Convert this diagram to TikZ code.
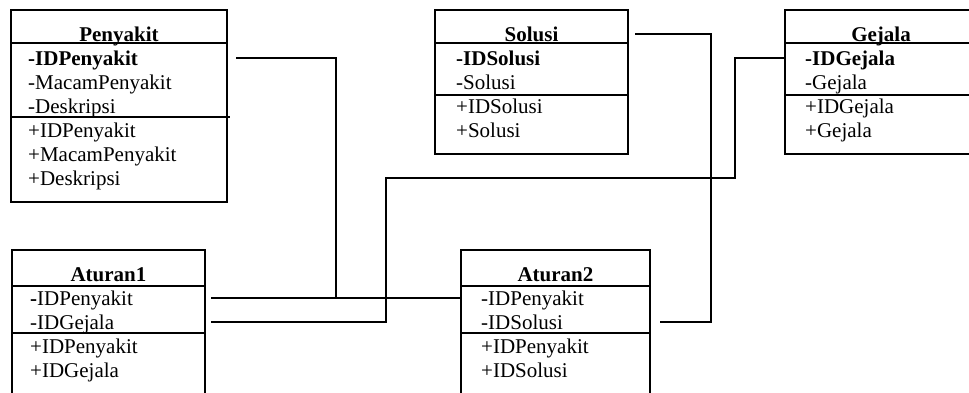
\documentclass[tikz,border=0pt]{standalone}
\usepackage{fontspec}
\setmainfont{Liberation Serif}

\tikzset{
  kelas/.style={draw,line width=1.8pt,outer sep=0pt,inner sep=0pt,anchor=north west},
  garis/.style={line width=1.8pt},
  judul/.style={anchor=base,inner sep=0pt,font=\fontsize{21}{25}\selectfont\bfseries},
  baris/.style={anchor=base west,inner sep=0pt,font=\fontsize{21}{25}\selectfont}
}

\begin{document}
\begin{tikzpicture}[x=1pt,y=-1pt]

\useasboundingbox (0,0) rectangle (969,392);
\clip (0,0) rectangle (969,392);

% kelas
\node[kelas,minimum width=216pt,minimum height=192pt] (penyakit) at (11,10) {};
\node[kelas,minimum width=193pt,minimum height=144pt] (solusi) at (435,10) {};
\node[kelas,minimum width=192pt,minimum height=144pt] (gejala) at (785,10) {};
\node[kelas,minimum width=193pt,minimum height=160pt] (aturan1) at (12,250) {};
\node[kelas,minimum width=189pt,minimum height=160pt] (aturan2) at (461,250) {};

% garis pemisah
\draw[garis] ([yshift=-33pt]penyakit.north west) -- ([yshift=-33pt]penyakit.north east);
\draw[garis] ([yshift=-107pt]penyakit.north west) -- ([yshift=-107pt,xshift=3pt]penyakit.north east);
\foreach \k in {solusi,gejala} {
  \draw[garis] ([yshift=-33pt]\k.north west) -- ([yshift=-33pt]\k.north east);
  \draw[garis] ([yshift=-85pt]\k.north west) -- ([yshift=-85pt]\k.north east);
}
\foreach \k in {aturan1,aturan2} {
  \draw[garis] ([yshift=-36pt]\k.north west) -- ([yshift=-36pt]\k.north east);
  \draw[garis] ([yshift=-83pt]\k.north west) -- ([yshift=-83pt]\k.north east);
}

% judul
\node[judul] (penyakit-j) at ([yshift=-31pt]penyakit.north) {Penyakit};
\node[judul] (solusi-j) at ([yshift=-31pt]solusi.north) {Solusi};
\node[judul] (gejala-j) at ([yshift=-31pt]gejala.north) {Gejala};
\node[judul] (aturan1-j) at ([yshift=-31pt]aturan1.north) {Aturan1};
\node[judul] (aturan2-j) at ([yshift=-31pt]aturan2.north) {Aturan2};

% atribut
\foreach \t [count=\i] in {\textbf{-IDPenyakit},-MacamPenyakit,-Deskripsi,+IDPenyakit,+MacamPenyakit,+Deskripsi}
  \node[baris] (pen-\i) at (28,{65+24*(\i-1)}) {\t};
\foreach \t [count=\i] in {\textbf{-IDSolusi},-Solusi,+IDSolusi,+Solusi}
  \node[baris] (sol-\i) at (456,{65+24*(\i-1)}) {\t};
\foreach \t [count=\i] in {\textbf{-IDGejala},-Gejala,+IDGejala,+Gejala}
  \node[baris] (gej-\i) at (805,{65+24*(\i-1)}) {\t};
\foreach \t [count=\i] in {\textbf{-}IDPenyakit,-IDGejala,+IDPenyakit,+IDGejala}
  \node[baris] (at1-\i) at (30,{305+24*(\i-1)}) {\t};
\foreach \t [count=\i] in {-IDPenyakit,-IDSolusi,+IDPenyakit,+IDSolusi}
  \node[baris] (at2-\i) at (481,{305+24*(\i-1)}) {\t};

% ujung relasi
\coordinate (penOut) at (236,58);
\coordinate (solOut) at (635,34);
\coordinate (a1Out1) at (211,298);
\coordinate (a1Out2) at (211,322);
\coordinate (a2In2) at (660,322);
\coordinate (simpang) at (336,298);

% relasi
\draw[garis] (penOut) -| (simpang);
\draw[garis] (a1Out1) -- (aturan2.west |- a1Out1);
\draw[garis] (a1Out2) -| (386,178) -| (735,58) -- (gejala.west |- penOut);
\draw[garis] (solOut) -- ++(76,0) |- (a2In2);

\end{tikzpicture}
\end{document}
